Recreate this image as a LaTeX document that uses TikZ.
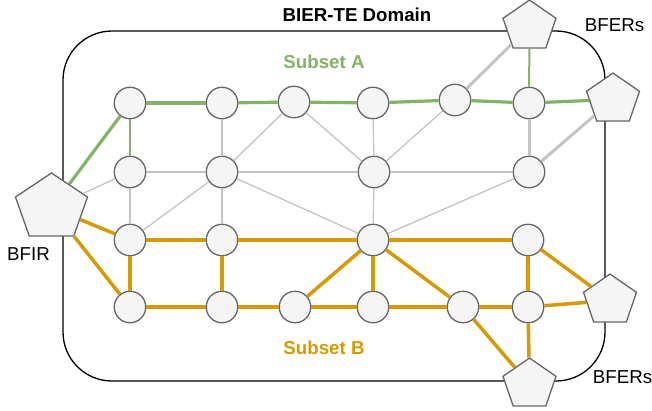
\documentclass[tikz,border=0pt]{standalone}
\usepackage{fontspec}
\setmainfont{Liberation Sans}
\usetikzlibrary{shapes.geometric}
\definecolor{setagreen}{HTML}{82B366}
\definecolor{setborange}{HTML}{D79B00}
\definecolor{nodeline}{HTML}{666666}
\definecolor{nodefill}{HTML}{F5F5F5}
\definecolor{linkgray}{HTML}{C4C4C4}

\tikzset{
  router/.style={circle, draw=nodeline, fill=nodefill, line width=1.3pt, minimum size=31.5pt, inner sep=0pt},
  edgerouter/.style={regular polygon, regular polygon sides=5, draw=nodeline, fill=nodefill, line width=1.3pt, inner sep=0pt, minimum size=55.7pt},
  link/.style={linkgray, line width=1.3pt},
  idle/.style={linkgray, line width=3pt},
  pathA/.style={setagreen, line width=3.2pt},
  pathAthin/.style={setagreen, line width=2pt},
  pathB/.style={setborange, line width=3.5pt},
  title/.style={anchor=base, font=\fontsize{18.7}{22}\selectfont\bfseries},
  caption/.style={anchor=base, font=\fontsize{18.7}{22}\selectfont},
}

\begin{document}
\begin{tikzpicture}[x=1pt, y=-1pt]
  \useasboundingbox (0,0) rectangle (652,410);

  % domain
  \draw[line width=1.3pt, rounded corners=49pt] (63,31) rectangle (605,381);

  % routers
  \node[router] (a1) at (130,103) {};
  \node[router] (a2) at (222,103) {};
  \node[router] (a3) at (294,102) {};
  \node[router] (a4) at (373,103) {};
  \node[router] (a5) at (455,100) {};
  \node[router] (a6) at (529,103) {};
  \node[router] (b1) at (130,172) {};
  \node[router] (b2) at (222,172) {};
  \node[router] (b4) at (374,172) {};
  \node[router] (b6) at (529,172) {};
  \node[router] (c1) at (130,240) {};
  \node[router] (c2) at (222,240) {};
  \node[router] (c4) at (373,240) {};
  \node[router] (c6) at (528,240) {};
  \node[router] (d1) at (130,307) {};
  \node[router] (d2) at (222,307) {};
  \node[router] (d3) at (295,307) {};
  \node[router] (d4) at (373,307) {};
  \node[router] (d5) at (463,307) {};
  \node[router] (d6) at (528,307) {};

  % BFIR and BFERs
  \node[edgerouter, shift={(51.5,207.8)}, minimum size=75.8pt, yscale=.918, transform shape] (bfir) at (0,0) {};
  \node[edgerouter, shift={(529.5,26.5)}, yscale=.95, transform shape] (bfertop) at (0,0) {};
  \node[edgerouter, shift={(613,99.5)}, yscale=.95, transform shape] (berright) at (0,0) {};
  \node[edgerouter, shift={(610,300.5)}, yscale=.95, transform shape] (bferlow) at (0,0) {};
  \node[edgerouter, shift={(529.5,384.5)}, yscale=.95, transform shape] (bferbottom) at (0,0) {};

  % unused links
  \foreach \u/\v in {bfir/b1, b1/b2, a2/b2, a3/b2, a3/b4, a4/b4, a5/b4, b2/b4, b4/b6,
                     b1/c1, b2/c1, b2/c2, b2/c4, b4/c4, b6/c4}
    \draw[link] (\u) -- (\v);
  \foreach \u/\v in {a5/bfertop, a6/b6, b6/berright}
    \draw[idle] (\u) -- (\v);

  % subset A
  \foreach \u/\v in {bfir/a1, a1/a2, a2/a3, a3/a4, a4/a5, a5/a6, a6/berright}
    \draw[pathA] (\u) -- (\v);
  \draw[pathAthin] (a1) -- (b1);
  \draw[pathAthin] (a6) -- (bfertop);

  % subset B
  \foreach \u/\v in {bfir/c1, bfir/d1, c1/d1, c1/c2, c2/d2, c2/c4, c4/c6, d1/d2, d2/d3,
                     d3/c4, d3/d4, c4/d4, c4/d5, d4/d5, d5/d6, d6/bferlow, c6/d6,
                     c6/bferlow, d6/bferbottom, d5/bferbottom}
    \draw[pathB] (\u) -- (\v);

  % labels
  \node[title] (domain) at (357,21) {BIER-TE Domain};
  \node[title, text=setagreen] (subseta) at (324,68) {Subset A};
  \node[title, text=setborange] (subsetb) at (324,354) {Subset B};
  \node[caption] (bferstop) at (614.5,31) {BFERs};
  \node[caption] (bferslow) at (622.5,383) {BFERs};
  \node[caption] (bfirlabel) at (28.5,260) {BFIR};
\end{tikzpicture}
\end{document}
